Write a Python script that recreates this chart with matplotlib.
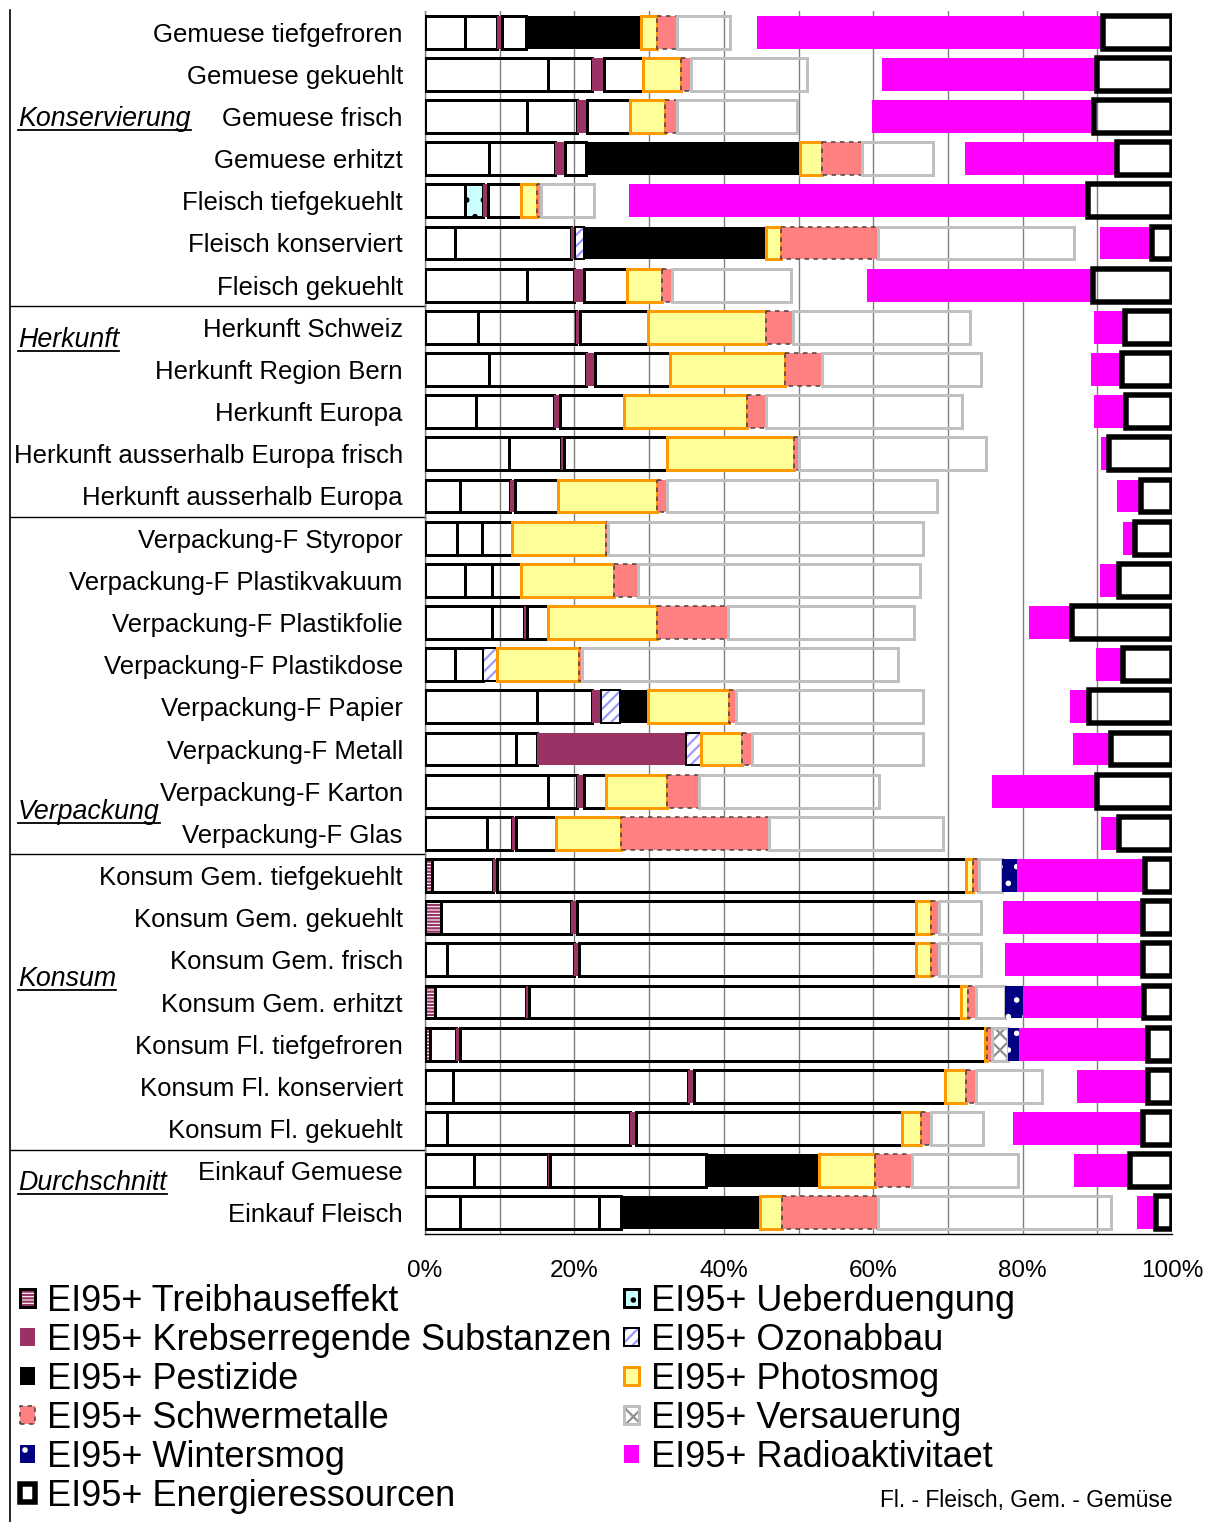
import numpy as np
import matplotlib
matplotlib.use("Agg")
import matplotlib.pyplot as plt
from matplotlib.patches import Rectangle
from matplotlib.lines import Line2D
from matplotlib.transforms import blended_transform_factory
from matplotlib.legend_handler import HandlerTuple

plt.rcParams['font.family'] = ['Liberation Sans', 'DejaVu Sans']
plt.rcParams['hatch.linewidth'] = 1.6

# ---- categories (top to bottom) ----
kategorien = [
    "Gemuese tiefgefroren", "Gemuese gekuehlt", "Gemuese frisch", "Gemuese erhitzt",
    "Fleisch tiefgekuehlt", "Fleisch konserviert", "Fleisch gekuehlt",
    "Herkunft Schweiz", "Herkunft Region Bern", "Herkunft Europa",
    "Herkunft ausserhalb Europa frisch", "Herkunft ausserhalb Europa",
    "Verpackung-F Styropor", "Verpackung-F Plastikvakuum", "Verpackung-F Plastikfolie",
    "Verpackung-F Plastikdose", "Verpackung-F Papier", "Verpackung-F Metall",
    "Verpackung-F Karton", "Verpackung-F Glas",
    "Konsum Gem. tiefgekuehlt", "Konsum Gem. gekuehlt", "Konsum Gem. frisch",
    "Konsum Gem. erhitzt", "Konsum Fl. tiefgefroren", "Konsum Fl. konserviert",
    "Konsum Fl. gekuehlt",
    "Einkauf Gemuese", "Einkauf Fleisch",
]

gruppen = ["Konservierung", "Herkunft", "Verpackung", "Konsum", "Durchschnitt"]
gruppen_zeile = [2.05, 7.3, 18.5, 22.45, 27.3]  # row position of the group caption
gruppen_grenzen = [6.5, 11.5, 19.5, 26.5]       # separators between the groups

# ---- segment widths in % (stack order left to right) ----
treib    = [0, 0, 0, 0, 0, 0, 0, 0, 0, 0, 0, 0, 0, 0, 0, 0, 0, 0, 0, 0,
            1.0, 2.1, 0, 1.4, 0.7, 0, 0, 0, 0]
feld_a   = [5.35, 16.5, 13.6, 8.6, 5.35, 4.0, 13.6, 7.1, 8.6, 6.8, 11.2, 4.7,
            4.3, 5.4, 9.0, 4.0, 15.0, 12.2, 16.5, 8.3,
            0, 0, 2.9, 0, 0, 3.7, 2.9, 6.5, 4.7]
feld_b   = [4.25, 5.9, 6.7, 8.8, 0, 15.6, 6.3, 13.1, 13.0, 10.5, 7.0, 6.7,
            3.3, 3.6, 4.3, 3.8, 7.4, 2.8, 3.8, 3.4,
            8.1, 17.5, 17.0, 12.1, 3.5, 31.5, 24.5, 9.9, 18.6]
ueber    = [0, 0, 0, 0, 2.35, 0, 0, 0, 0, 0, 0, 0, 0, 0, 0, 0, 0, 0, 0, 0,
            0, 0, 0, 0, 0, 0, 0, 0, 0]
krebs    = [0.7, 1.5, 1.4, 1.4, 0.8, 0.5, 1.4, 0.5, 1.2, 0.8, 0.4, 0.6,
            0, 0, 0.3, 0, 1.1, 20.0, 1.0, 0.5,
            0.5, 0.7, 0.7, 0.4, 0.5, 0.8, 0.8, 0.4, 0]
feld_c   = [3.2, 5.3, 5.7, 2.8, 4.3, 0, 5.8, 9.2, 10.0, 8.6, 13.8, 5.8,
            4.1, 3.8, 2.8, 0, 0, 0, 2.9, 5.3,
            62.8, 45.4, 45.1, 57.9, 70.3, 33.6, 35.6, 20.8, 3.0]
ozon     = [0, 0, 0, 0, 0, 1.2, 0, 0, 0, 0, 0, 0,
            0, 0, 0, 1.8, 2.6, 2.0, 0, 0,
            0, 0, 0, 0, 0, 0, 0, 0, 0]
pest     = [15.4, 0, 0, 28.6, 0, 24.3, 0, 0, 0, 0, 0, 0,
            0, 0, 0, 0, 3.8, 0, 0, 0,
            0, 0, 0, 0, 0, 0, 0, 15.2, 18.6]
photo    = [2.2, 5.1, 4.7, 2.9, 2.2, 2.1, 4.6, 15.7, 15.4, 16.4, 17.0, 13.2,
            12.5, 12.5, 14.6, 11.0, 10.8, 5.5, 8.2, 8.8,
            1.0, 2.0, 2.0, 0.9, 0.2, 2.8, 2.6, 7.4, 2.9]
schwer   = [2.7, 1.3, 1.7, 5.4, 0.5, 12.9, 1.4, 3.6, 4.9, 2.5, 0.6, 1.4,
            0.3, 3.2, 9.6, 0.4, 0.9, 1.3, 4.3, 19.7,
            0.8, 1.1, 1.1, 1.0, 0.7, 1.4, 1.3, 5.0, 12.8]
feld_d   = [7.0, 15.6, 16.0, 9.5, 7.1, 26.3, 15.9, 23.8, 21.3, 26.3, 25.1, 36.2,
            42.1, 37.7, 24.9, 42.3, 25.0, 22.8, 24.1, 23.4,
            3.1, 5.6, 5.6, 3.9, 0, 8.8, 7.0, 14.2, 31.3]
versauer = [0, 0, 0, 0, 0, 0, 0, 0, 0, 0, 0, 0, 0, 0, 0, 0, 0, 0, 0, 0,
            0, 0, 0, 0, 2.2, 0, 0, 0, 0]
winter   = [0, 0, 0, 0, 0, 0, 0, 0, 0, 0, 0, 0, 0, 0, 0, 0, 0, 0, 0, 0,
            2.0, 0, 0, 2.5, 1.4, 0, 0, 0, 0]
luecke   = [3.7, 10.0, 10.0, 4.3, 4.7, 3.4, 10.2, 16.5, 14.8, 17.6, 15.4, 24.1,
            26.9, 24.1, 15.4, 26.5, 19.7, 20.1, 15.1, 21.1,
            0, 3.0, 3.2, 0, 0, 4.7, 4.0, 7.5, 3.4]
radio    = [46.2, 28.8, 29.7, 20.3, 61.4, 7.0, 30.2, 4.2, 4.1, 4.4, 1.0, 3.1,
            1.5, 2.6, 5.7, 3.6, 2.6, 5.1, 14.1, 2.4,
            17.1, 18.7, 18.5, 16.2, 17.3, 9.5, 17.4, 7.5, 2.6]
energie  = [9.3, 10.0, 10.5, 7.4, 11.3, 2.7, 10.6, 6.3, 6.7, 6.1, 8.5, 4.2,
            5.0, 7.1, 13.4, 6.6, 11.1, 8.2, 10.0, 7.1,
            3.6, 3.9, 3.9, 3.7, 3.2, 3.2, 3.9, 5.6, 2.1]

x_ticks = [0, 20, 40, 60, 80, 100]
x_labels = ["0%", "20%", "40%", "60%", "80%", "100%"]

# ---- drawing styles for each stacked series ----
PX = 0.72  # one pixel in points at 100 dpi
stile = [
    ("EI95+ Treibhauseffekt", treib,
     [dict(facecolor="white", edgecolor="#993366", hatch="-----", linewidth=0),
      dict(fill=False, edgecolor="black", linewidth=3 * PX)]),
    (None, feld_a, [dict(fill=False, edgecolor="black", linewidth=3 * PX)]),
    (None, feld_b, [dict(fill=False, edgecolor="black", linewidth=3 * PX)]),
    ("EI95+ Ueberduengung", ueber,
     [dict(facecolor="#CCFFFF", edgecolor="black", hatch=".", linewidth=0),
      dict(fill=False, edgecolor="black", linewidth=3 * PX)]),
    ("EI95+ Krebserregende Substanzen", krebs,
     [dict(facecolor="#993366", edgecolor="none", linewidth=0)]),
    (None, feld_c, [dict(fill=False, edgecolor="black", linewidth=3 * PX)]),
    ("EI95+ Ozonabbau", ozon,
     [dict(facecolor="white", edgecolor="#9999FF", hatch="///", linewidth=0),
      dict(fill=False, edgecolor="black", linewidth=2 * PX)]),
    ("EI95+ Pestizide", pest, [dict(facecolor="black", edgecolor="none", linewidth=0)]),
    ("EI95+ Photosmog", photo,
     [dict(facecolor="#FFFF99", edgecolor="#FF9900", linewidth=3 * PX)]),
    ("EI95+ Schwermetalle", schwer,
     [dict(facecolor="#FF8080", edgecolor="#404040", linewidth=1.5 * PX, linestyle=(0, (3, 3)))]),
    (None, feld_d, [dict(fill=False, edgecolor="#C0C0C0", linewidth=3 * PX)]),
    ("EI95+ Versauerung", versauer,
     [dict(facecolor="white", edgecolor="#909090", hatch="xx", linewidth=0),
      dict(fill=False, edgecolor="#C0C0C0", linewidth=3 * PX)]),
    ("EI95+ Wintersmog", winter,
     [dict(facecolor="#000080", edgecolor="white", hatch=".", linewidth=0)]),
    (None, luecke, [dict(facecolor="none", edgecolor="none", linewidth=0)]),
    ("EI95+ Radioaktivitaet", radio,
     [dict(facecolor="#FF00FF", edgecolor="none", linewidth=0)]),
    ("EI95+ Energieressourcen", energie,
     [dict(fill=False, edgecolor="black", linewidth=5.5 * PX)]),
]

W, H = 1221, 1522
fig = plt.figure(figsize=(W / 100, H / 100), dpi=100)
ax = fig.add_axes([425 / W, 1 - 1234 / H, (1172 - 425) / W, (1234 - 11) / H])

n = len(kategorien)
y = np.arange(n)
links = np.zeros(n)
for name, werte, schichten in stile:
    werte = np.asarray(werte, dtype=float)
    m = werte > 0
    for st in schichten:
        ax.barh(y[m], werte[m], left=links[m], height=0.78, zorder=3, **st)
    links += werte

ax.set_xlim(0, 100)
ax.set_ylim(n - 0.5, -0.5)
ax.set_yticks(y)
ax.set_yticklabels(kategorien, fontsize=18.5)
ax.tick_params(axis="y", length=0, pad=16)
ax.set_xticks(x_ticks)
ax.set_xticklabels(x_labels, fontsize=17.5)
ax.set_xticks(range(0, 101, 10), minor=True)
ax.tick_params(axis="x", which="both", length=0, pad=19)
ax.grid(axis="x", which="both", color="#808080", linewidth=1.0, zorder=0)
ax.set_axisbelow(True)
for s in ["top", "right"]:
    ax.spines[s].set_visible(False)
ax.spines["left"].set_color("#808080")
ax.spines["bottom"].set_color("black")
ax.spines["left"].set_linewidth(1.0)
ax.spines["bottom"].set_linewidth(1.0)

# group separators and the frame of the label column
tr = blended_transform_factory(fig.transFigure, ax.transData)
for g in gruppen_grenzen:
    ax.add_line(Line2D([10 / W, 425 / W], [g, g], transform=tr, color="black",
                       linewidth=1.0, clip_on=False))
fig.add_artist(Line2D([10 / W, 10 / W], [0, 1 - 10 / H], color="black", linewidth=1.2))

# group captions (italic, underlined)
gruppen_texte = []
for name, zeile in zip(gruppen, gruppen_zeile):
    t = ax.text(18 / W, zeile, name, transform=tr, fontsize=19.3, style="italic",
                ha="left", va="center")
    gruppen_texte.append(t)

# legend: layered swatches (fill/pattern plus frame) like the bars
handles = []
labels = []
order = [0, 4, 7, 9, 12, 15, 3, 6, 8, 11, 14]
for i in order:
    name, _, schichten = stile[i]
    teile = tuple(Rectangle((0, 0), 1, 1, **st) for st in schichten)
    handles.append(teile if len(teile) > 1 else teile[0])
    labels.append(name)
leg = fig.legend(handles, labels, ncol=2, loc="upper left",
                 bbox_to_anchor=(20 / W, 1 - 1284 / H), frameon=False, fontsize=26,
                 handlelength=0.42, handleheight=0.42, handletextpad=0.32,
                 columnspacing=0.35, labelspacing=0.11, borderpad=0, borderaxespad=0,
                 handler_map={tuple: HandlerTuple(ndivide=1, pad=0)})

fig.text(1173 / W, 1 - 1500 / H, "Fl. - Fleisch, Gem. - Gemüse", ha="right",
         va="center", fontsize=16.4)

fig.canvas.draw()
r = fig.canvas.get_renderer()
inv = fig.transFigure.inverted()
for t in gruppen_texte:
    bb = t.get_window_extent(r)
    (x0, y0), (x1, _) = inv.transform([(bb.x0, bb.y0 + 2), (bb.x1, bb.y0 + 2)])
    fig.add_artist(Line2D([x0, x1], [y0, y0], color="black", linewidth=1.3))

fig.savefig("out.png", dpi=100)
